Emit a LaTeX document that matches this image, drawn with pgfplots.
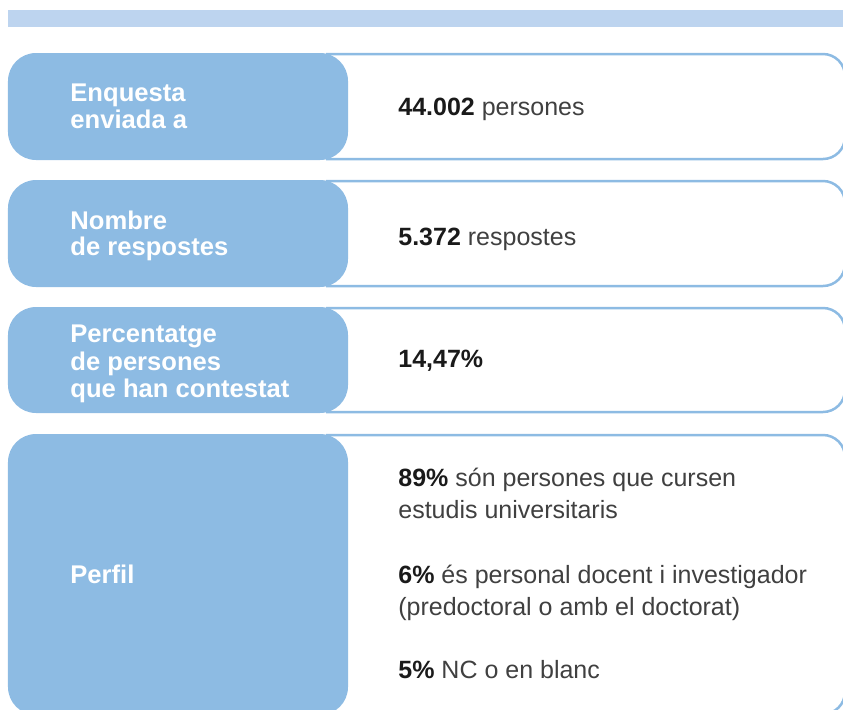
\documentclass[border=0pt]{standalone}
\usepackage{pgfplots}
\pgfplotsset{compat=1.18}
\usepackage{fontspec}
\setmainfont{Liberation Sans}
\definecolor{boxblue}{HTML}{8DBBE3}
\definecolor{barblue}{HTML}{BDD4EF}
\definecolor{txtgray}{HTML}{404040}
\definecolor{txtblack}{HTML}{1A1A1A}
\begin{document}
\begin{tikzpicture}[
  lbl/.style={anchor=base west, inner sep=0pt, text=white, font=\fontsize{12.8}{13.5}\selectfont\bfseries},
  val/.style={anchor=base west, inner sep=0pt, text=txtgray, font=\fontsize{12.5}{15.5}\selectfont},
  outer/.style={boxblue, line width=1.25pt, fill=white, rounded corners=11pt},
  inner/.style={boxblue, rounded corners=14pt},
]
\begin{axis}[
  at={(0,0)}, anchor=south west,
  scale only axis, width=421.5pt, height=354.5pt,
  xmin=0, xmax=843, ymin=0, ymax=709, y dir=reverse,
  axis lines=none, clip=true,
]
% top bar
\fill[barblue] (axis cs:8,10) rectangle (axis cs:843,27);
% box 1
\draw[outer] (axis cs:326,54) -- (axis cs:845,54) -- (axis cs:845,159) -- (axis cs:326,159);
\fill[inner] (axis cs:8,53) rectangle (axis cs:348,160);
% box 2
\draw[outer] (axis cs:326,181) -- (axis cs:845,181) -- (axis cs:845,286) -- (axis cs:326,286);
\fill[inner] (axis cs:8,180) rectangle (axis cs:348,287);
% box 3
\draw[outer] (axis cs:326,308) -- (axis cs:845,308) -- (axis cs:845,412) -- (axis cs:326,412);
\fill[inner] (axis cs:8,307) rectangle (axis cs:348,413);
% box 4
\draw[outer] (axis cs:326,435) -- (axis cs:845,435) -- (axis cs:845,714) -- (axis cs:326,714);
\fill[inner] (axis cs:8,434) rectangle (axis cs:348,715);
\coordinate (L1) at (axis cs:70,101);
\coordinate (L2) at (axis cs:70,128);
\coordinate (L3) at (axis cs:70,229);
\coordinate (L4) at (axis cs:70,256);
\coordinate (L5) at (axis cs:70,343);
\coordinate (L6) at (axis cs:70,370);
\coordinate (L7) at (axis cs:70,397);
\coordinate (L8) at (axis cs:70,583);
\coordinate (V1) at (axis cs:398,115);
\coordinate (V2) at (axis cs:398,245);
\coordinate (V3) at (axis cs:398,367);
\coordinate (V4) at (axis cs:398,487);
\coordinate (V5) at (axis cs:398,518);
\coordinate (V6) at (axis cs:398,583);
\coordinate (V7) at (axis cs:398,615);
\coordinate (V8) at (axis cs:398,678);
\end{axis}
% labels
\node[lbl] at (L1) {Enquesta};
\node[lbl] at (L2) {enviada a};
\node[lbl] at (L3) {Nombre};
\node[lbl] at (L4) {de respostes};
\node[lbl] at (L5) {Percentatge};
\node[lbl] at (L6) {de persones};
\node[lbl] at (L7) {que han contestat};
\node[lbl] at (L8) {Perfil};
% values
\node[val] at (V1) {\textcolor{txtblack}{\bfseries 44.002} persones};
\node[val] at (V2) {\textcolor{txtblack}{\bfseries 5.372} respostes};
\node[val] at (V3) {\textcolor{txtblack}{\bfseries 14,47\%}};
\node[val] at (V4) {\textcolor{txtblack}{\bfseries 89\%} són persones que cursen};
\node[val] at (V5) {estudis universitaris};
\node[val] at (V6) {\textcolor{txtblack}{\bfseries 6\%} és personal docent i investigador};
\node[val] at (V7) {(predoctoral o amb el doctorat)};
\node[val] at (V8) {\textcolor{txtblack}{\bfseries 5\%} NC o en blanc};
\pgfresetboundingbox
\path (current axis.south west) rectangle (current axis.north east);
\end{tikzpicture}
\end{document}
